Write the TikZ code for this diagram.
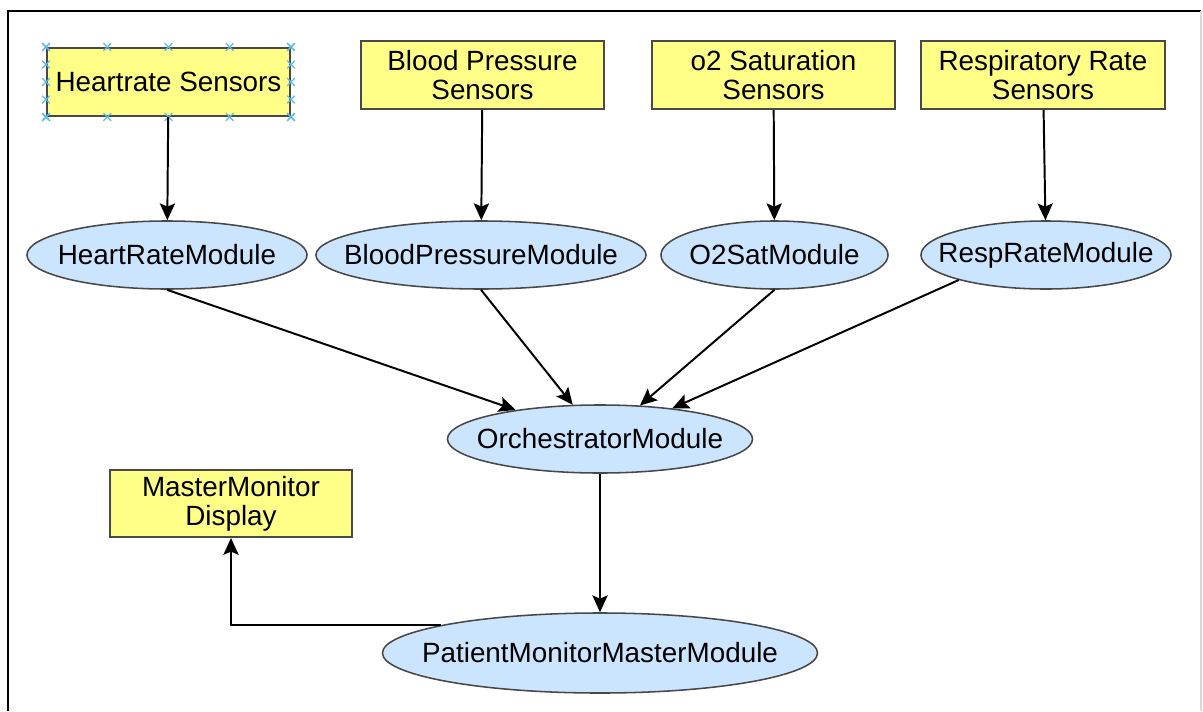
\documentclass[tikz,border=0pt]{standalone}
\usepackage{fontspec}
\setmainfont{Liberation Sans}
\usetikzlibrary{shapes.geometric,shapes.misc,arrows.meta,positioning,calc}
\definecolor{sensoryellow}{RGB}{255,255,136}
\definecolor{moduleblue}{RGB}{204,229,255}
\definecolor{edgegray}{RGB}{72,72,72}
\definecolor{handleblue}{RGB}{90,185,235}
\newcommand{\diafont}{\fontsize{19.8}{20.5}\selectfont}
\newcommand{\modname}[1]{\makebox[0pt]{#1}}
\tikzset{
    sensorbox/.style={rectangle, draw=edgegray, line width=1.4pt, fill=sensoryellow, minimum width=6.075cm, minimum height=1.7cm, align=center, font=\diafont},
    modnode/.style={ellipse, draw=edgegray, line width=1.1pt, fill=moduleblue, minimum width=#1, minimum height=1.7cm, inner sep=0pt, font=\diafont},
    arrow/.style={line width=1.4pt, -{Stealth[length=0.42cm,width=0.38cm,inset=0.08cm]}},
    handle/.style={cross out, draw=handleblue, line width=0.9pt, minimum size=0.16cm, inner sep=0pt}
}

\begin{document}
\begin{tikzpicture}[x=0.025cm, y=-0.025cm]

\useasboundingbox (0,0) rectangle (1203,711);

% Frame
\draw[line width=1.2pt] (8,711) -- (8,11) -- (1201,11);
\draw[black!15, line width=1pt] (1201,11) -- (1201,711);

% Sensors (top row)
\node[sensorbox] (hrs) at (168.5,82) {Heartrate Sensors};
\node[sensorbox] (bps) at (482.5,75) {Blood Pressure\\Sensors};
\node[sensorbox] (o2s) at (773.5,75) {o2 Saturation\\Sensors};
\node[sensorbox] (rrs) at (1043,75) {Respiratory Rate\\Sensors};

% Selection handles on Heartrate Sensors
\foreach \f [count=\i] in {0,0.25,0.5,0.75,1} {
    \node[handle] (ht\i) at ($(hrs.north west)!\f!(hrs.north east)$) {};
    \node[handle] (hb\i) at ($(hrs.south west)!\f!(hrs.south east)$) {};
    \node[handle] (hl\i) at ($(hrs.north west)!\f!(hrs.south west)$) {};
    \node[handle] (hr\i) at ($(hrs.north east)!\f!(hrs.south east)$) {};
}

% Modules
\node[modnode=7cm] (hrm) at (167,255) {\modname{HeartRateModule}};
\node[modnode=8.25cm] (bpm) at (481,255) {\modname{BloodPressureModule}};
\node[modnode=5.675cm] (o2m) at (774.5,255) {\modname{O2SatModule}};
\node[modnode=6.25cm] (rrm) at (1046,255) {\modname{RespRateModule}};

% Orchestrator and master
\node[modnode=7.625cm] (orch) at (600,439) {\modname{OrchestratorModule}};
\node[modnode=10.875cm, minimum height=2cm] (pmm) at (600,653) {\modname{PatientMonitorMasterModule}};

% Display
\node[sensorbox, minimum width=6.025cm, minimum height=1.675cm] (mmd) at (231,503.5) {MasterMonitor\\Display};

% Sensor arrows
\draw[arrow] (hrs) -- (hrm);
\draw[arrow] (bps) -- (bpm);
\draw[arrow] (o2s) -- (o2m);
\draw[arrow] (rrs) -- (rrm);

% Module arrows into orchestrator
\draw[arrow] (hrm.south) -- (orch);
\draw[arrow] (bpm.south) -- (orch);
\draw[arrow] (o2m.south) -- (orch.40);
\draw[arrow] (rrm.196) -- (orch.23);

% Down to master, then to display
\draw[arrow] (orch) -- (pmm);
\draw[arrow] (pmm.170) -| (mmd.south);

\end{tikzpicture}
\end{document}
